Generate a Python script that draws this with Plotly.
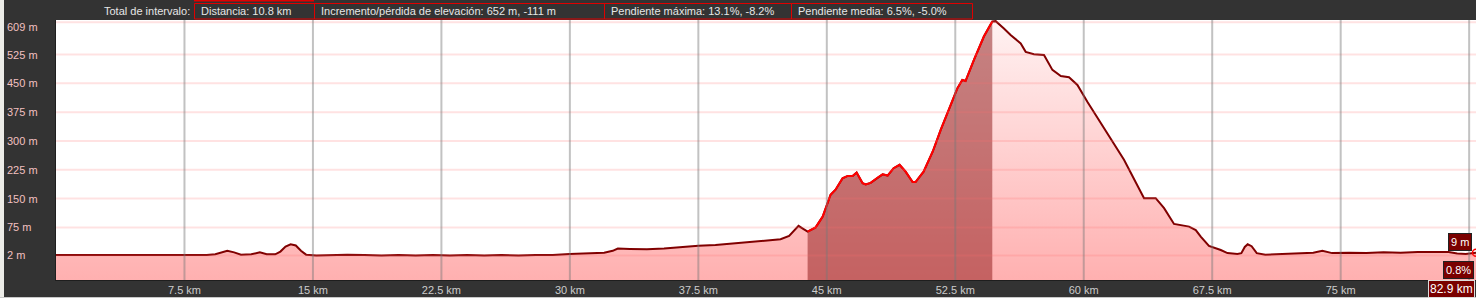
import plotly.graph_objects as go

# ---------------- data ----------------
km = [0.0, 0.8, 1.6, 2.4, 3.2, 4.0, 4.8, 5.6, 6.4, 7.2, 8.0, 8.8, 9.3, 9.7, 10.0, 10.4, 10.8,
      11.4, 11.9, 12.3, 12.8, 13.1, 13.4, 13.7, 14.0, 14.3, 14.6, 15.2, 16.0, 17.0, 18.0, 19.0,
      20.0, 21.0, 22.0, 23.0, 24.0, 25.0, 26.0, 27.0, 28.0, 29.0, 30.0, 31.0, 32.0, 32.5, 32.8,
      33.5, 34.5, 35.5, 36.5, 37.5, 38.5, 39.5, 40.5, 41.3, 42.0, 42.3, 42.8, 43.35, 43.6, 43.88,
      44.35, 44.76, 45.22, 45.51, 45.92, 46.22, 46.51, 46.74, 47.09, 47.27, 47.56, 47.97, 48.26,
      48.55, 48.9, 49.25, 49.6, 50.01, 50.18, 50.65, 51.18, 51.65, 52.23, 52.62, 52.91, 53.1,
      53.59, 54.17, 54.66, 54.86, 55.34, 55.73, 56.32, 56.61, 57.09, 57.68, 58.17, 58.66, 59.14,
      59.63, 60.21, 61.38, 62.35, 63.52, 64.2, 64.69, 65.27, 66.15, 66.54, 66.83, 67.31, 68.0,
      68.39, 68.97, 69.2, 69.4, 69.57, 69.8, 70.1, 70.6, 71.5, 72.5, 73.4, 73.93, 74.5, 75.5,
      76.5, 77.5, 78.5, 79.5, 80.5, 81.3, 81.8, 82.3, 82.9]
elev = [3, 3, 2, 3, 2, 3, 2, 3, 3, 2, 3, 3, 5, 11, 14, 10, 4,
        5, 10, 5, 5, 12, 25, 31, 28, 14, 4, 2, 3, 4, 3, 2,
        3, 2, 3, 2, 3, 2, 3, 2, 3, 3, 6, 8, 9, 14, 20,
        19, 18, 20, 24, 27, 29, 33, 37, 41, 42, 44, 53, 79, 72, 64,
        75, 103, 160, 173, 203, 209, 209, 218, 190, 187, 191, 205, 213,
        210, 229, 238, 220, 193, 193, 220, 272, 329, 393, 437, 459, 456,
        511, 572, 611, 612, 593, 576, 554, 532, 526, 524, 485, 469, 466,
        446, 402, 320, 251, 151, 151, 125, 84, 77, 68, 51, 27, 16,
        8, 6, 8, 24, 31, 26, 8, 4, 5, 7, 9, 14, 8, 9,
        8, 10, 9, 11, 12, 11, 7, 6, 9]

Y_TICKS = [2, 75, 150, 225, 300, 375, 450, 525, 609]
X_TICKS = [7.5, 15, 22.5, 30, 37.5, 45, 52.5, 60, 67.5, 75]
X_GRID = X_TICKS + [82.5]
X_LABELS = ["7.5 km", "15 km", "22.5 km", "30 km", "37.5 km", "45 km", "52.5 km",
            "60 km", "67.5 km", "75 km"]
SEL_START, SEL_END = 43.88, 54.66
Y_MIN, Y_MAX = -62, 615
X_MAX = 82.9

HEADER_TITLE = "Total de intervalo:"
HEADER_BOXES = ["Distancia: 10.8 km",
                "Incremento/pérdida de elevación: 652 m, -111 m",
                "Pendiente máxima: 13.1%, -8.2%",
                "Pendiente media: 6.5%, -5.0%"]
CURSOR_ELEV = "9 m"
CURSOR_GRADE = "0.8%"
CURSOR_DIST = "82.9 km"

# ---------------- layout helpers ----------------
W, H = 1476, 298
L, R, T, B = 56, 0, 20, 18
PW, PH = W - L - R, H - T - B
FONT = "Liberation Sans, Arial, sans-serif"


def px(x):
    return (x - L) / PW


def py(y):
    return (H - B - y) / PH


sel_km = [k for k in km if SEL_START <= k <= SEL_END]
sel_el = [e for k, e in zip(km, elev) if SEL_START <= k <= SEL_END]

fig = go.Figure()
fig.add_trace(go.Scatter(x=km, y=[Y_MIN] * len(km), mode="lines", line=dict(width=0),
                         hoverinfo="skip", showlegend=False))
fig.add_trace(go.Scatter(x=km, y=elev, mode="lines", fill="tonexty",
                         fillgradient=dict(type="vertical",
                                           colorscale=[[0, "#ffb0b0"], [1, "#fff2f2"]],
                                           start=Y_MIN, stop=Y_MAX),
                         line=dict(color="#800000", width=2), showlegend=False))
fig.add_trace(go.Scatter(x=sel_km, y=[Y_MIN] * len(sel_km), mode="lines", line=dict(width=0),
                         hoverinfo="skip", showlegend=False))
fig.add_trace(go.Scatter(x=sel_km, y=sel_el, mode="lines", fill="tonexty",
                         fillcolor="rgba(140,20,20,0.5)",
                         line=dict(color="#ff0000", width=2), showlegend=False))
fig.add_trace(go.Scatter(x=[km[-1]], y=[elev[-1]], mode="markers",
                         marker=dict(symbol="circle-open", color="#ff0000", size=7,
                                     line=dict(width=1.5)),
                         cliponaxis=False, showlegend=False))

shapes = []
# gridlines drawn above the fill
for v in Y_TICKS:
    shapes.append(dict(type="line", xref="paper", yref="y", x0=0, x1=1, y0=v, y1=v,
                       line=dict(color="rgba(255,110,110,0.2)", width=2), layer="above"))
for v in X_GRID:
    shapes.append(dict(type="line", xref="x", yref="paper", x0=v, x1=v, y0=0, y1=1,
                       line=dict(color="rgba(120,120,120,0.45)", width=2), layer="above"))
# left light strip and bottom light line
shapes.append(dict(type="rect", xref="paper", yref="paper", x0=px(0), x1=px(4), y0=py(H), y1=py(0),
                   fillcolor="#ecece8", line=dict(width=0), layer="above"))
shapes.append(dict(type="rect", xref="paper", yref="paper", x0=px(0), x1=px(W), y0=py(H), y1=py(297),
                   fillcolor="#c8c8c8", line=dict(width=0), layer="above"))
# header boxes
box_edges = [194.5, 314.5, 604.5, 791.5, 972.5]
for i in range(len(HEADER_BOXES)):
    shapes.append(dict(type="rect", xref="paper", yref="paper",
                       x0=px(box_edges[i]), x1=px(box_edges[i + 1]), y0=py(19), y1=py(3.5),
                       line=dict(color="#e00000", width=1), fillcolor="rgba(0,0,0,0)"))
shapes.append(dict(type="rect", xref="paper", yref="paper", x0=px(194), x1=px(314), y0=py(1.5), y1=py(-1),
                   fillcolor="#e00000", line=dict(width=0)))

annotations = []
annotations.append(dict(text=HEADER_TITLE, xref="paper", yref="paper", x=px(192), y=py(11.5),
                        xanchor="right", yanchor="middle", showarrow=False,
                        font=dict(family=FONT, size=11, color="#e6e6e6")))
for i, t in enumerate(HEADER_BOXES):
    annotations.append(dict(text=t, xref="paper", yref="paper", x=px(box_edges[i] + 4), y=py(11.5),
                            xanchor="left", yanchor="middle", showarrow=False,
                            font=dict(family=FONT, size=11, color="#e6e6e6")))
for v in Y_TICKS:
    annotations.append(dict(text=f"{v} m", xref="paper", yref="y", x=px(5), y=v,
                            xanchor="left", yanchor="middle", showarrow=False,
                            yshift=-5 if v == Y_TICKS[-1] else 0,
                            font=dict(family=FONT, size=11, color="#f2c0c0")))
# cursor labels
annotations.append(dict(text=CURSOR_ELEV, xref="paper", yref="paper", x=px(1472), y=py(242),
                        xanchor="right", yanchor="middle", showarrow=False, bgcolor="#7a0000",
                        borderpad=2, bordercolor="#222", borderwidth=1,
                        font=dict(family=FONT, size=11, color="#ffffff")))
annotations.append(dict(text=CURSOR_GRADE, xref="paper", yref="paper", x=px(1474), y=py(270),
                        xanchor="right", yanchor="middle", showarrow=False, bgcolor="#7a0000",
                        borderpad=2, bordercolor="#222", borderwidth=1,
                        font=dict(family=FONT, size=11, color="#ffffff")))
annotations.append(dict(text=CURSOR_DIST, xref="paper", yref="paper", x=px(1475), y=py(289),
                        xanchor="right", yanchor="middle", showarrow=False, bgcolor="#7a0000",
                        borderpad=1, bordercolor="#dddddd", borderwidth=1,
                        font=dict(family=FONT, size=12, color="#ffffff")))

fig.update_layout(
    width=W, height=H,
    margin=dict(l=L, r=R, t=T, b=B, pad=0),
    paper_bgcolor="#333333", plot_bgcolor="#ffffff",
    showlegend=False,
    shapes=shapes, annotations=annotations,
    font=dict(family=FONT, size=11, color="#cccccc"),
    xaxis=dict(range=[0, X_MAX], tickvals=X_TICKS, ticktext=X_LABELS, showgrid=False,
               zeroline=False, showline=True, linecolor="#1e1e1e", linewidth=1, ticks="",
               tickfont=dict(family=FONT, size=11, color="#cccccc"), fixedrange=True),
    yaxis=dict(range=[Y_MIN, Y_MAX], showticklabels=False, showgrid=False, zeroline=False,
               showline=True, linecolor="#1e1e1e", linewidth=1, ticks="", fixedrange=True),
)

fig.write_html("out.html")
